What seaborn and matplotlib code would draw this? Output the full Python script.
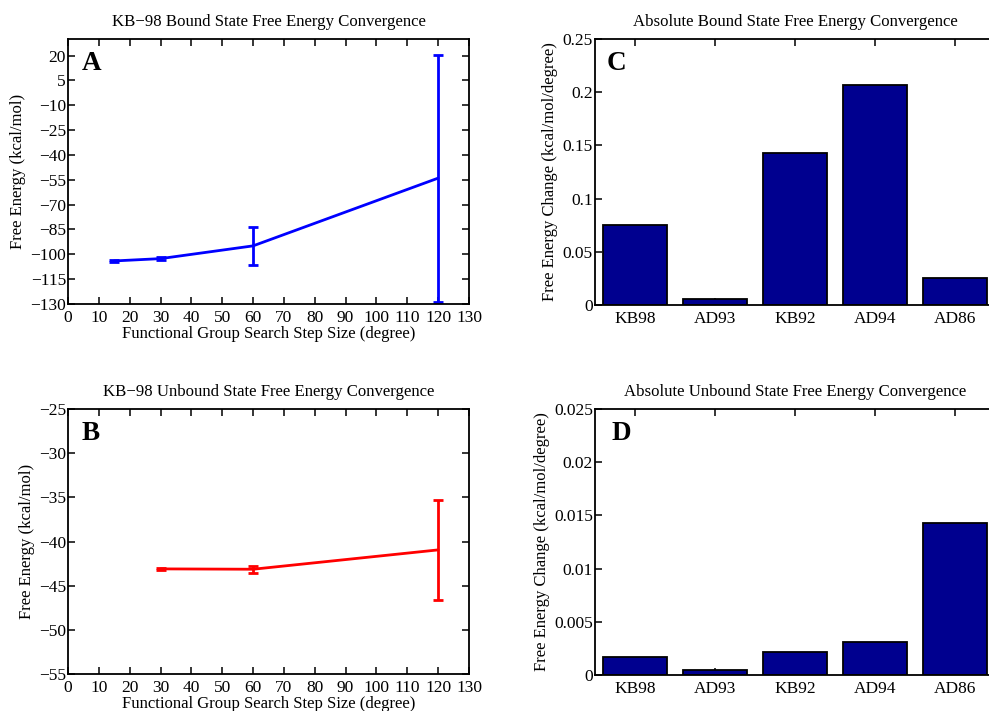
import numpy as np
import pandas as pd
import matplotlib
matplotlib.use("Agg")
import matplotlib.pyplot as plt
import seaborn as sns
from matplotlib.ticker import FuncFormatter

# ---- data ----
steps_bound = [15, 30, 60, 120]
energy_bound = [-104.0, -102.6, -94.9, -54.0]
err_bound = [0.8, 0.8, 11.3, 74.5]

steps_unbound = [30, 60, 120]
energy_unbound = [-43.1, -43.14, -40.95]
err_unbound = [0.08, 0.4, 5.65]

systems = ["KB98", "AD93", "KB92", "AD94", "AD86"]
bound_change = [0.0752, 0.0056, 0.143, 0.2068, 0.025]
unbound_change = [0.00169, 0.00047, 0.00216, 0.00307, 0.01425]

# ---- style ----
sns.set_style("ticks")
plt.rcParams['font.family'] = ['Liberation Serif', 'DejaVu Serif']
plt.rcParams['text.color'] = 'black'
plt.rcParams['axes.labelcolor'] = 'black'
plt.rcParams['xtick.color'] = 'black'
plt.rcParams['ytick.color'] = 'black'
plt.rcParams['xtick.direction'] = 'in'
plt.rcParams['ytick.direction'] = 'in'
plt.rcParams['axes.linewidth'] = 1.3
plt.rcParams['axes.edgecolor'] = 'black'

fig = plt.figure(figsize=(9.89, 7.11), dpi=100)

W, H = 989, 711
def rect(x0, y0, x1, y1):
    return [x0 / W, 1 - y1 / H, (x1 - x0) / W, (y1 - y0) / H]

axA = fig.add_axes(rect(68, 39, 469, 304))
axB = fig.add_axes(rect(68, 409, 469, 674))
axC = fig.add_axes(rect(595, 39, 995, 305))
axD = fig.add_axes(rect(595, 409, 995, 675))

TICK = 12.5
LAB = 12
TIT = 12.1
LET = 19.5

def fmt_g(v, pos):
    s = "%g" % v
    return s.replace("-", "\u2212")

def style_ax(ax, right=True):
    ax.tick_params(axis='both', which='both', direction='in', length=5, width=1.1,
                   labelsize=TICK, top=True, right=right, colors='black')
    ax.tick_params(axis='x', pad=4.5)
    ax.tick_params(axis='y', pad=1.5)
    for sp in ax.spines.values():
        sp.set_visible(True)
        sp.set_linewidth(1.3)
        sp.set_color('black')

# Panel A
df_a = pd.DataFrame({"step": steps_bound, "energy": energy_bound})
sns.lineplot(data=df_a, x="step", y="energy", color=(0, 0, 1), linewidth=2, ax=axA)
axA.errorbar(steps_bound, energy_bound, yerr=err_bound, fmt='none', ecolor=(0, 0, 1),
             elinewidth=2, capsize=3.5, capthick=2)
axA.set_xlim(0, 130)
axA.set_ylim(-130, 30)
axA.set_xticks(np.arange(0, 131, 10))
axA.set_yticks(np.arange(-130, 21, 15))
axA.yaxis.set_major_formatter(FuncFormatter(fmt_g))
axA.set_xlabel("Functional Group Search Step Size (degree)", fontsize=LAB, labelpad=0)
axA.set_ylabel("Free Energy (kcal/mol)", fontsize=LAB, labelpad=3)
axA.set_title("KB\u221298 Bound State Free Energy Convergence", fontsize=TIT, pad=9)
style_ax(axA)
axA.text(0.035, 0.955, "A", transform=axA.transAxes, fontsize=LET, fontweight='bold',
         va='top', ha='left')

# Panel B
df_b = pd.DataFrame({"step": steps_unbound, "energy": energy_unbound})
sns.lineplot(data=df_b, x="step", y="energy", color=(1, 0, 0), linewidth=2, ax=axB)
axB.errorbar(steps_unbound, energy_unbound, yerr=err_unbound, fmt='none', ecolor=(1, 0, 0),
             elinewidth=2, capsize=3.5, capthick=2)
axB.set_xlim(0, 130)
axB.set_ylim(-55, -25)
axB.set_xticks(np.arange(0, 131, 10))
axB.set_yticks(np.arange(-55, -24, 5))
axB.yaxis.set_major_formatter(FuncFormatter(fmt_g))
axB.set_xlabel("Functional Group Search Step Size (degree)", fontsize=LAB, labelpad=0)
axB.set_ylabel("Free Energy (kcal/mol)", fontsize=LAB, labelpad=3)
axB.set_title("KB\u221298 Unbound State Free Energy Convergence", fontsize=TIT, pad=9)
style_ax(axB)
axB.text(0.035, 0.955, "B", transform=axB.transAxes, fontsize=LET, fontweight='bold',
         va='top', ha='left')

navy = (0, 0, 0.56)

# Panel C
sns.barplot(x=systems, y=bound_change, color=navy, saturation=1, width=0.8,
            edgecolor='black', linewidth=1.3, ax=axC)
axC.set_xlim(-0.5, 4.5)
axC.set_ylim(0, 0.25)
axC.set_yticks(np.arange(0, 0.251, 0.05))
axC.yaxis.set_major_formatter(FuncFormatter(fmt_g))
axC.set_ylabel("Free Energy Change (kcal/mol/degree)", fontsize=LAB, labelpad=3)
axC.set_title("Absolute Bound State Free Energy Convergence", fontsize=TIT, pad=9)
style_ax(axC, right=False)
axC.text(0.03, 0.955, "C", transform=axC.transAxes, fontsize=LET, fontweight='bold',
         va='top', ha='left')

# Panel D
sns.barplot(x=systems, y=unbound_change, color=navy, saturation=1, width=0.8,
            edgecolor='black', linewidth=1.3, ax=axD)
axD.set_xlim(-0.5, 4.5)
axD.set_ylim(0, 0.025)
axD.set_yticks(np.arange(0, 0.0251, 0.005))
axD.yaxis.set_major_formatter(FuncFormatter(fmt_g))
axD.set_ylabel("Free Energy Change (kcal/mol/degree)", fontsize=LAB, labelpad=3)
axD.set_title("Absolute Unbound State Free Energy Convergence", fontsize=TIT, pad=9)
style_ax(axD, right=False)
axD.text(0.042, 0.955, "D", transform=axD.transAxes, fontsize=LET, fontweight='bold',
         va='top', ha='left')

for ax in (axC, axD):
    ax.set_xlabel("")

fig.savefig("out.png", dpi=100)
